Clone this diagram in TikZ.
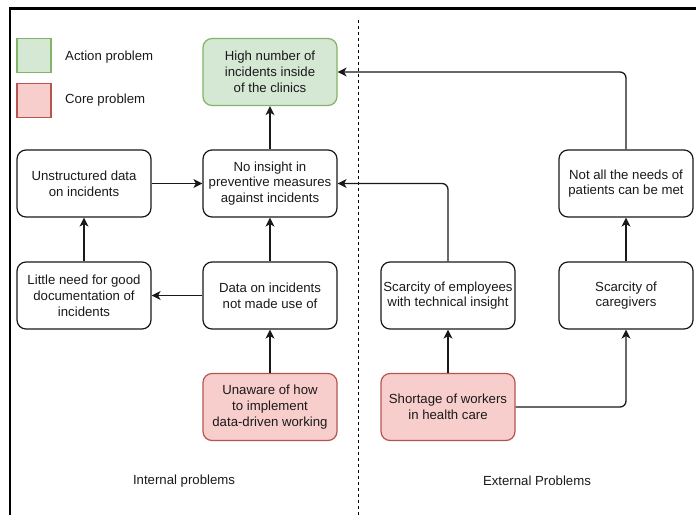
\documentclass[tikz,border=0pt]{standalone}
\usepackage{fontspec}
\setmainfont{Liberation Sans}
\usetikzlibrary{arrows.meta}
\definecolor{actfill}{HTML}{D5E8D4}
\definecolor{actline}{HTML}{82B366}
\definecolor{corefill}{HTML}{F8CECC}
\definecolor{coreline}{HTML}{B85450}
\definecolor{txt}{HTML}{1A1A1A}
\begin{document}
\begin{tikzpicture}[x=1pt,y=-1pt,
  every node/.style={font=\fontsize{13.2}{15.8}\selectfont, text=txt},
  box/.style={draw=black!90, line width=1.2, rounded corners=9, fill=white,
    minimum width=134, minimum height=67, align=center, inner sep=0},
  actbox/.style={box, draw=actline, fill=actfill},
  corebox/.style={box, draw=coreline, fill=corefill},
  legendsq/.style={minimum width=34, minimum height=34, inner sep=0, line width=1.2},
  link/.style={line width=1.3, draw=black!90, -{Stealth[length=9,width=9,inset=2.5]}, rounded corners=6}]
\useasboundingbox (0,0) rectangle (696,515);

% outer frame (only its left and top edges fall inside the page)
\draw[line width=2.4] (9.7,515) -- (9.7,8.5) -- (696,8.5);

% divider between internal and external problems
\coordinate (divtop) at (358.3,20);
\coordinate (divbot) at (358.3,515);
\draw[line width=1, dash pattern=on 3 off 3] (divtop) -- (divbot);

% legend
\node[legendsq, draw=actline, fill=actfill] (legA) at (34,55.3) {};
\node[anchor=west, inner sep=0] (legAt) at (65,57) {Action problem};
\node[legendsq, draw=coreline, fill=corefill] (legC) at (34,100.5) {};
\node[anchor=west, inner sep=0] (legCt) at (65,100) {Core problem};

% problem boxes
\node[actbox] (high) at (270,72) {High number of\\incidents inside\\of the clinics};
\node[box] (noins) at (270,183.5) {No insight in\\preventive measures\\against incidents};
\node[box] (unstr) at (84,183.5) {Unstructured data\\on incidents};
\node[box] (little) at (84,295.5) {Little need for good\\documentation of\\incidents};
\node[box] (dataon) at (270,295.5) {Data on incidents\\not made use of};
\node[corebox] (unaware) at (270,407) {Unaware of how\\to implement\\data-driven working};
\node[box] (scemp) at (448,295.5) {Scarcity of employees\\with technical insight};
\node[corebox] (shortage) at (448,407) {Shortage of workers\\in health care};
\node[box] (scare) at (626,295.5) {Scarcity of\\caregivers};
\node[box] (notall) at (626,183.5) {Not all the needs of\\patients can be met};

% section labels
\node (intl) at (184,481) {Internal problems};
\node (extl) at (537,481) {External Problems};

% cause-effect links
\draw[link] (noins.north) -- (high.south);
\draw[link] (unstr.east) -- (noins.west);
\draw[link] (little.north) -- (unstr.south);
\draw[link] (dataon.west) -- (little.east);
\draw[link] (dataon.north) -- (noins.south);
\draw[link] (unaware.north) -- (dataon.south);
\draw[link] (shortage.north) -- (scemp.south);
\draw[link] (scemp.north) |- (noins.east);
\draw[link] (shortage.east) -| (scare.south);
\draw[link] (scare.north) -- (notall.south);
\draw[link] (notall.north) |- (high.east);
\end{tikzpicture}
\end{document}
